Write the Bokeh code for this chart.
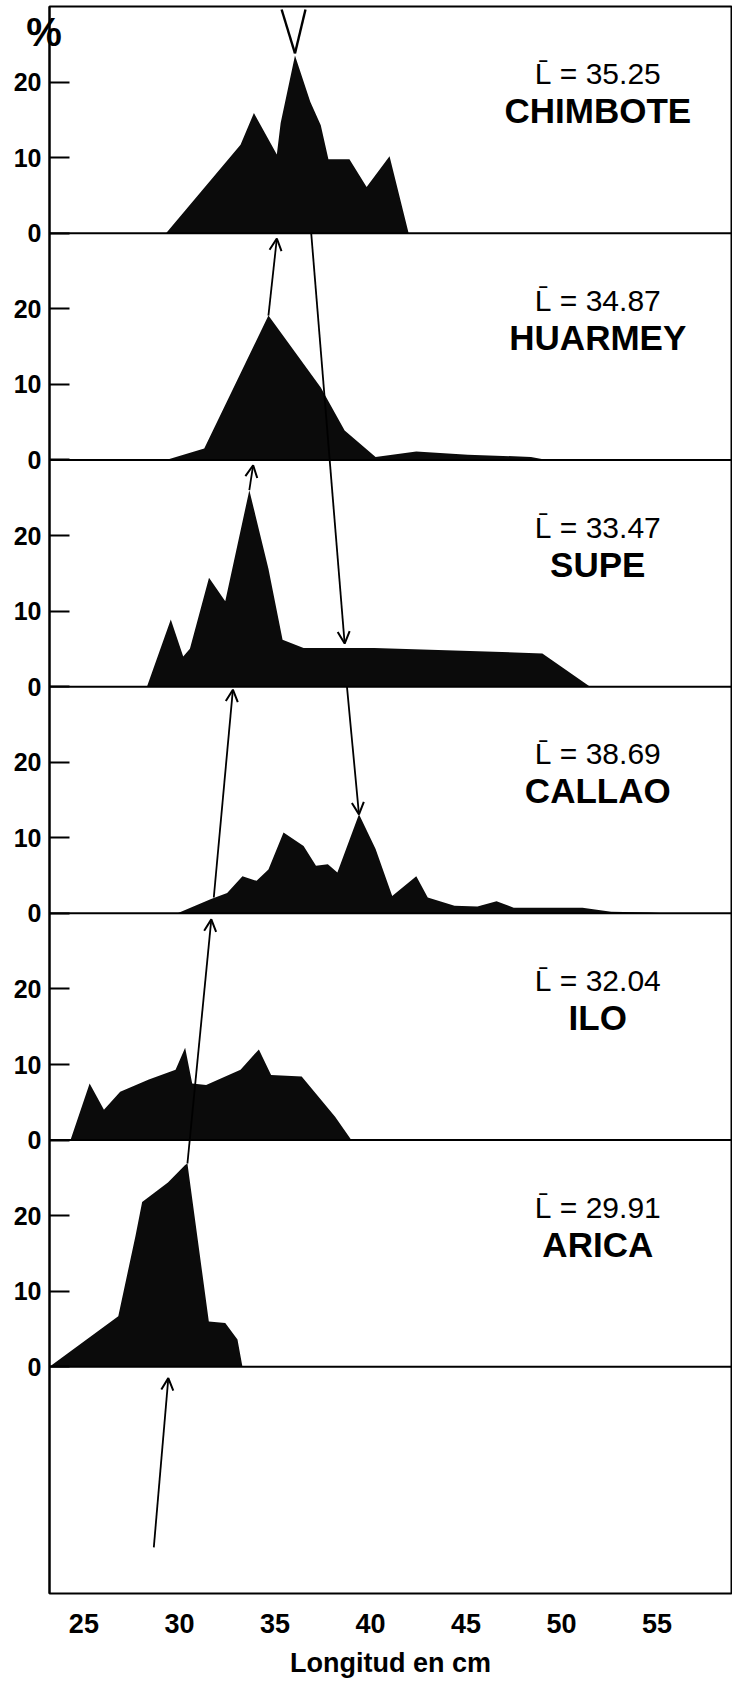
from bokeh.plotting import figure
from bokeh.models import Range1d, FixedTicker, Span, Arrow, OpenHead, ColumnDataSource
from bokeh.embed import file_html
from bokeh.resources import INLINE
from bokeh.core.properties import value

# ---------------- data ----------------
ports = ["CHIMBOTE", "HUARMEY", "SUPE", "CALLAO", "ILO", "ARICA"]
mean_lengths = ["35.25", "34.87", "33.47", "38.69", "32.04", "29.91"]

chimbote_len = [29.3, 33.2, 33.9, 35.1, 35.3, 36.05, 36.85, 37.4, 37.8, 38.9, 39.8, 41.0, 42.0]
chimbote_pct = [0.0, 11.7, 15.9, 10.4, 14.6, 23.5, 17.4, 14.3, 9.8, 9.8, 6.1, 10.2, 0.0]

huarmey_len = [29.3, 31.3, 34.66, 37.4, 38.65, 40.27, 42.4, 45.1, 48.4, 49.25]
huarmey_pct = [0.0, 1.5, 19.1, 9.6, 3.9, 0.4, 1.1, 0.7, 0.4, 0.0]

supe_len = [28.3, 29.55, 30.2, 30.55, 31.55, 32.4, 33.66, 34.66, 35.4, 36.5, 40.2, 49.0, 51.5]
supe_pct = [0.0, 8.9, 4.0, 5.0, 14.4, 11.3, 26.0, 15.6, 6.2, 5.1, 5.1, 4.4, 0.0]

callao_len = [29.9, 31.66, 32.5, 33.3, 34.04, 34.66, 35.45, 36.5, 37.15, 37.77, 38.27, 39.4,
              40.27, 41.14, 42.4, 43.0, 44.4, 45.6, 46.6, 47.5, 51.1, 52.6, 54.6, 55.4]
callao_pct = [0.0, 1.9, 2.7, 4.9, 4.3, 5.8, 10.7, 8.9, 6.3, 6.5, 5.4, 13.1,
              8.5, 2.3, 4.9, 2.1, 1.0, 0.9, 1.6, 0.75, 0.75, 0.2, 0.1, 0.0]

ilo_len = [24.3, 25.3, 26.05, 26.9, 28.4, 29.8, 30.3, 30.67, 31.4, 33.2, 34.16, 34.8, 36.4, 38.15, 39.0]
ilo_pct = [0.0, 7.5, 4.0, 6.4, 8.0, 9.3, 12.2, 7.5, 7.3, 9.3, 12.0, 8.6, 8.4, 3.1, 0.0]

arica_len = [23.2, 26.8, 27.7, 28.05, 29.4, 30.3, 30.42, 31.54, 32.4, 33.04, 33.3]
arica_pct = [0.0, 6.7, 17.3, 21.8, 24.4, 26.7, 26.9, 6.0, 5.8, 3.6, 0.0]

series_len = [chimbote_len, huarmey_len, supe_len, callao_len, ilo_len, arica_len]
series_pct = [chimbote_pct, huarmey_pct, supe_pct, callao_pct, ilo_pct, arica_pct]

x_ticks = [25, 30, 35, 40, 45, 50, 55]
y_tick_values = [0, 10, 20]

# arrows linking modes: (len0, panel0, pct0, len1, panel1, pct1)
arrows = [
    (28.66, "BASE", 6.1, 29.42, "ARICA", -1.5),
    (30.42, "ARICA", 26.9, 31.67, "CALLAO", -0.8),
    (31.8, "CALLAO", 2.1, 32.8, "SUPE", -0.4),
    (33.66, "SUPE", 26.0, 33.86, "HUARMEY", -0.7),
    (34.66, "HUARMEY", 19.1, 35.1, "CHIMBOTE", -0.7),
    (36.9, "CHIMBOTE", 0.0, 38.65, "SUPE", 5.7),
    (38.77, "SUPE", 0.0, 39.4, "CALLAO", 13.1),
]
# open "V" mark over the Chimbote peak
v_mark_len = [35.35, 36.6]
v_mark_top = 29.6
v_mark_apex_len = 36.05
v_mark_apex_pct = 23.8

# ---------------- layout ----------------
PANEL = 30
offsets = {"BASE": 0}
for i, name in enumerate(ports):
    offsets[name] = PANEL * (len(ports) - i)

FONT = "Liberation Sans"

p = figure(width=732, height=1680,
           x_range=Range1d(23.2, 58.9), y_range=Range1d(0, PANEL * (len(ports) + 1)),
           output_backend="svg", toolbar_location=None,
           min_border_left=49, min_border_right=1, min_border_top=6, min_border_bottom=0)
p.grid.visible = False
p.outline_line_color = "black"
p.outline_line_width = 2
p.background_fill_color = "white"
p.border_fill_color = "white"

for name, xs, ys in zip(ports, series_len, series_pct):
    off = offsets[name]
    p.varea(x=xs, y1=[off] * len(xs), y2=[off + v for v in ys], fill_color="#0b0b0b")
    p.add_layout(Span(location=off, dimension="width", line_color="black", line_width=2))

for (x0, p0, y0, x1, p1, y1) in arrows:
    p.add_layout(Arrow(x_start=x0, y_start=offsets[p0] + y0, x_end=x1, y_end=offsets[p1] + y1,
                       line_color="black", line_width=1.8,
                       end=OpenHead(size=12, line_width=2, line_color="black")))

ch = offsets["CHIMBOTE"]
p.segment(x0=v_mark_len, y0=[ch + v_mark_top] * 2,
          x1=[v_mark_apex_len] * 2, y1=[ch + v_mark_apex_pct] * 2,
          line_color="black", line_width=2.4)

# texts
text_x = 51.9
src = ColumnDataSource(dict(
    x=[text_x] * len(ports),
    y_mean=[offsets[n] + 21.1 for n in ports],
    y_name=[offsets[n] + 16.2 for n in ports],
    mean=["L\u0304 = " + m for m in mean_lengths],
    name=ports,
))
p.text(x="x", y="y_mean", text="mean", source=src, text_align="center", text_baseline="middle",
       text_font=value(FONT), text_font_size="30px", text_color="black")
p.text(x="x", y="y_name", text="name", source=src, text_align="center", text_baseline="middle",
       text_font=value(FONT), text_font_size="35px", text_font_style="bold", text_color="black")

# y axis
yt = []
overrides = {}
for name in ports:
    for t in y_tick_values:
        yt.append(offsets[name] + t)
        overrides[offsets[name] + t] = str(t)
ya = p.yaxis[0]
ya.ticker = FixedTicker(ticks=yt)
ya.major_label_overrides = overrides
ya.major_tick_in = 20
ya.major_tick_out = 0
ya.major_tick_line_width = 2
ya.minor_tick_line_color = None
ya.axis_line_width = 2
ya.major_label_standoff = 8
ya.major_label_text_font = FONT
ya.major_label_text_font_size = "25px"
ya.major_label_text_font_style = "bold"
ya.major_label_text_color = "black"
# "%" unit shown at the top-left corner as the axis title
ya.axis_label = "\n%"
ya.axis_label_text_font = FONT
ya.axis_label_text_font_size = "40px"
ya.axis_label_text_font_style = "bold"
ya.axis_label_text_color = "black"
ya.axis_label_text_line_height = 1.15
ya.axis_label_orientation = "horizontal"
ya.axis_label_standoff = -51
if hasattr(ya, "axis_label_align"):
    ya.axis_label_align = "end"

# x axis
xa = p.xaxis[0]
xa.ticker = FixedTicker(ticks=x_ticks)
xa.major_tick_in = 0
xa.major_tick_out = 0
xa.minor_tick_line_color = None
xa.axis_line_color = None
xa.major_label_standoff = 20
xa.major_label_text_font = FONT
xa.major_label_text_font_size = "27px"
xa.major_label_text_font_style = "bold"
xa.major_label_text_color = "black"
xa.axis_label = "Longitud en cm"
xa.axis_label_text_font = FONT
xa.axis_label_text_font_size = "27px"
xa.axis_label_text_font_style = "bold"
xa.axis_label_text_color = "black"
xa.axis_label_standoff = 12

open("out.html", "w").write(file_html(p, INLINE))
